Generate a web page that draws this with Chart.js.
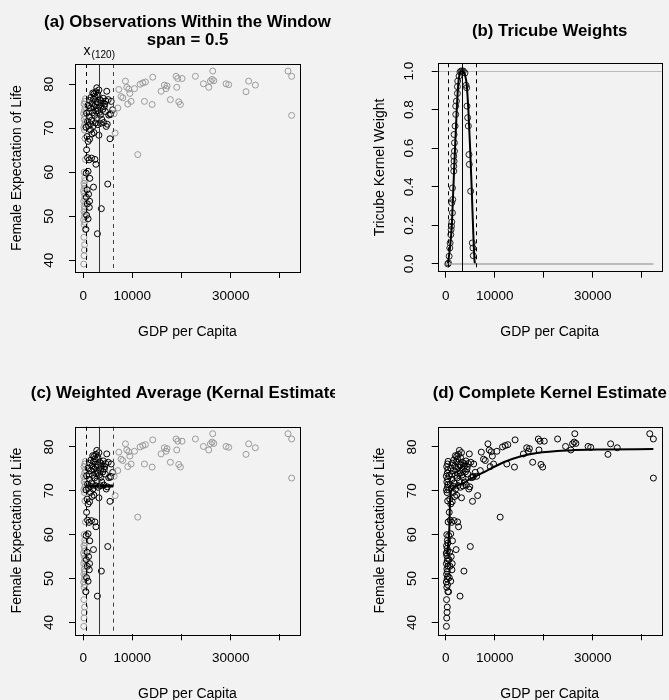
<!DOCTYPE html>
<html>
<head>
<meta charset="utf-8">
<script src="https://cdn.jsdelivr.net/npm/chart.js@4.4.1/dist/chart.umd.min.js"></script>
<style>
html, body { margin: 0; padding: 0; background: #f2f2f2; }
#wrap { position: relative; width: 669px; height: 700px; overflow: hidden; }
canvas { position: absolute; }
</style>
</head>
<body>
<div id="wrap">
  <canvas id="pa" width="335" height="350" style="left:0;top:0"></canvas>
  <canvas id="pb" width="334" height="350" style="left:335px;top:0"></canvas>
  <canvas id="pc" width="335" height="350" style="left:0;top:350px"></canvas>
  <canvas id="pd" width="334" height="350" style="left:335px;top:350px"></canvas>
</div>
<script>
// GDP per capita and female life expectancy
const gdp = [
  // poorest countries (left of the window)
  120, 180, 250, 300, 150, 420, 200, 350, 100, 260, 400, 160, 330, 220, 450, 120, 300, 380, 200, 90,
  350, 260, 150, 420, 310, 200, 470, 380, 250, 140, 330, 450, 210, 380, 100, 290, 420, 180, 350, 460,
  // inside the window
  560, 1000, 700, 1250, 850, 1300, 650, 1100, 800, 2100, 1350, 600, 1000, 2900, 3700, 5000,
  700, 1200, 1700, 2400, 2600, 900, 1000, 1300, 800, 1800, 3200, 5450, 2200, 1500,
  600, 1100, 1500, 2000, 2500, 3000, 3500, 4200, 4700, 1700, 900, 2800, 3800, 1300, 2300, 5200, 4900,
  700, 1200, 1900, 2600, 3300, 4000, 4500, 5600, 1500, 2200, 2900, 3600, 4300, 1000, 1800, 2500, 3000,
  3100, 3900, 4600, 5700, 1300, 2100, 2800, 3400, 4100, 1600, 2400, 3000, 1950, 2600, 4800, 3200,
  2770, 2200, 3700, 5100, 4400, 3500, 5550, 6000,
  // richer countries (right of the window)
  6300, 6500, 7050, 7250, 8060, 8600, 8870, 9280, 9070, 9750, 10430, 11580, 12130, 12660, 12460,
  14150, 14020, 15850, 16520, 16860, 17070, 17740, 18900, 19240, 19030, 19440, 19780, 20110, 22830,
  24460, 25540, 25880, 26220, 26350, 26570, 29060, 29600, 33120, 33660, 35020, 41660, 42400, 42400,
  11100, 9500, 7700
];
const lifeExp = [
  39.1, 41.0, 42.3, 43.5, 45.2, 47.0, 48.0, 48.6, 49.2, 49.9, 50.5, 51.0, 51.6, 52.2, 52.8, 53.4, 54.0, 54.6, 55.2, 55.8,
  56.3, 56.9, 57.5, 58.1, 58.7, 60.0, 62.9, 67.7, 69.6, 70.2, 70.8, 71.4, 72.0, 72.7, 73.3, 74.0, 74.8, 75.5, 76.1, 76.7,
  47.0, 49.4, 50.2, 52.0, 52.8, 53.4, 54.3, 55.0, 56.0, 56.6, 58.6, 59.8, 60.2, 46.0, 51.7, 57.3,
  65.1, 62.8, 63.2, 62.9, 61.8, 63.3, 67.0, 67.5, 68.1, 68.7, 68.4, 67.6, 69.0, 69.6,
  70.2, 70.6, 71.0, 70.4, 71.2, 70.8, 71.1, 71.3, 70.4, 71.8, 71.5, 72.2, 72.0, 72.6, 72.9, 73.0, 70.9,
  73.4, 73.8, 73.5, 73.9, 73.6, 74.3, 73.8, 73.3, 74.6, 74.9, 74.5, 75.0, 74.9, 75.2, 75.6, 75.4, 74.0,
  75.9, 75.7, 76.2, 76.1, 76.3, 76.6, 76.0, 76.5, 76.8, 77.0, 77.3, 77.6, 78.0, 78.3, 78.4, 78.7,
  79.2, 77.8, 76.2, 76.5, 75.5, 73.0, 73.1, 74.2,
  73.3, 68.9, 74.6, 78.8, 76.9, 80.7, 79.3, 78.9, 75.5, 76.1, 79.0, 80.0, 80.3, 80.5, 76.1,
  81.6, 75.4, 78.4, 79.8, 79.0, 79.6, 76.5, 81.8, 81.3, 79.3, 76.0, 75.4, 81.3, 81.8,
  80.1, 79.3, 80.7, 81.1, 83.0, 80.8, 80.1, 79.9, 78.3, 80.7, 79.8, 83.0, 81.8, 72.9,
  64.0, 77.9, 77.2
];

// focal value x(120), window edges and the local weighted average
const focusX = 3280;
const windowLo = 480;
const windowHi = 6100;
const avgX = [480, 6100];
const avgY = [71.1, 71.1];

// tricube weights of the observations inside the window (panel b)
const weightX = [405, 540, 676, 811, 878, 1014, 1081, 1149, 1216, 1351, 1216, 1419, 1351, 1622, 1622, 1689, 1622,
  1757, 1757, 1689, 1892, 2027, 2027, 2162, 2365, 2365, 2432, 2703, 2905, 3108, 3311, 3581, 3919,
  4122, 4257, 4324, 4459, 4595, 4730, 4797, 5068, 5405, 5541, 5608];
const weightY = [0, 0.005, 0.04, 0.083, 0.109, 0.152, 0.178, 0.196, 0.218, 0.265, 0.317, 0.334, 0.394, 0.481, 0.507,
  0.533, 0.559, 0.585, 0.628, 0.671, 0.715, 0.775, 0.818, 0.844, 0.884, 0.919, 0.948, 0.974, 0.995, 1.0, 1.0,
  1.0, 0.99, 0.926, 0.913, 0.818, 0.758, 0.715, 0.567, 0.516, 0.377, 0.109, 0.083, 0.043];
// tricube kernel curve
const kernelX = [420, 880, 1220, 1550, 1900, 2230, 2570, 2970, 3280, 3600, 3920, 4260, 4600, 4930, 5270, 5610, 5900, 6050];
const kernelY = [0, 0.09, 0.2, 0.4, 0.61, 0.8, 0.94, 0.995, 1.0, 0.995, 0.98, 0.93, 0.8, 0.62, 0.4, 0.16, 0.01, 0];
const zeroX = [0, 42400];
const zeroY = [0, 0];

// complete kernel estimate (panel d)
const smoothX = [200, 500, 700, 900, 1300, 2300, 3300, 5000, 8400, 11800, 15200, 18600, 25300, 32100, 42400];
const smoothY = [55.5, 58.0, 61.0, 68.5, 70.4, 71.2, 71.6, 72.7, 74.6, 76.5, 77.8, 78.6, 79.2, 79.4, 79.5];

const xTicks = [0, 10000, 20000, 30000, 40000];
const xTickLabels = ['0', '10000', '', '30000', ''];
const lifeTicks = [40, 50, 60, 70, 80];
const lifeTickLabels = ['40', '50', '60', '70', '80'];
const weightTicks = [0, 0.2, 0.4, 0.6, 0.8, 1.0];
const weightTickLabels = ['0.0', '0.2', '0.4', '0.6', '0.8', '1.0'];

const FONT = '"Liberation Sans", Arial, Helvetica, sans-serif';
Chart.defaults.font.family = FONT;
Chart.defaults.color = '#000';
Chart.defaults.animation = false;

const pts = gdp.map((g, i) => ({x: g, y: lifeExp[i]}));
const xy = (xs, ys) => xs.map((v, i) => ({x: v, y: ys[i]}));
const inWin = v => v >= windowLo && v <= windowHi;

function drawRefs(chart, lines) {
    const {ctx, chartArea: a, scales: {x, y}} = chart;
    ctx.save();
    lines.forEach(l => {
        ctx.beginPath();
        ctx.strokeStyle = l.color;
        ctx.lineWidth = l.width || 1;
        ctx.setLineDash(l.dash || []);
        if (l.v !== undefined) {
            const px = Math.round(x.getPixelForValue(l.v)) + 0.5;
            ctx.moveTo(px, a.top);
            ctx.lineTo(px, a.bottom);
        } else {
            const py = Math.round(y.getPixelForValue(l.h)) + 0.5;
            ctx.moveTo(a.left, py);
            ctx.lineTo(a.right, py);
        }
        ctx.stroke();
    });
    ctx.restore();
}

const rFrame = {
    id: 'rFrame',
    beforeDatasetsDraw(chart, args, o) {
        drawRefs(chart, (o.lines || []).filter(l => l.under));
    },
    afterDatasetsDraw(chart, args, o) {
        drawRefs(chart, (o.lines || []).filter(l => !l.under));
        const {ctx, chartArea: a} = chart;
        ctx.save();
        ctx.strokeStyle = '#000';
        ctx.lineWidth = 1;
        ctx.strokeRect(Math.round(a.left) + 0.5, Math.round(a.top) + 0.5,
            Math.round(a.right - a.left), Math.round(a.bottom - a.top));
        ctx.restore();
    },
    afterDraw(chart, args, o) {
        const {ctx, chartArea: a} = chart;
        const cx = (a.left + a.right) / 2;
        ctx.save();
        ctx.fillStyle = '#000';
        ctx.textAlign = 'center';
        ctx.textBaseline = 'alphabetic';
        ctx.font = 'bold 16.8px ' + FONT;
        o.titles.forEach(t => ctx.fillText(t.text, cx, t.y));
        ctx.font = '14px ' + FONT;
        ctx.fillText(o.xTitle, cx, a.bottom + 64);
        ctx.save();
        ctx.translate(a.left - 54, (a.top + a.bottom) / 2);
        ctx.rotate(-Math.PI / 2);
        ctx.fillText(o.yTitle, 0, 0);
        ctx.restore();
        if (o.focusLabel) {
            const px = chart.scales.x.getPixelForValue(focusX);
            ctx.font = '14px ' + FONT;
            const w1 = ctx.measureText('x').width;
            ctx.font = '10px ' + FONT;
            const w2 = ctx.measureText('(120)').width;
            const left = px - (w1 + w2 + 1) / 2;
            ctx.textAlign = 'left';
            ctx.font = '14px ' + FONT;
            ctx.fillText('x', left, a.top - 9);
            ctx.font = '10px ' + FONT;
            ctx.fillText('(120)', left + w1 + 1, a.top - 6.5);
        }
        ctx.restore();
    }
};

function xScale() {
    return {
        type: 'linear', min: -1660, max: 44100, bounds: 'data',
        afterBuildTicks: s => { s.ticks = xTicks.map(v => ({value: v})); },
        afterFit: s => { s.height = 50; },
        grid: {drawOnChartArea: false, drawTicks: true, tickLength: 6, color: '#000', lineWidth: 1},
        border: {display: false},
        ticks: {font: {size: 13.5}, color: '#000', padding: 10, maxRotation: 0, autoSkip: false,
            callback: (v, i) => xTickLabels[i]}
    };
}

function yScale(min, max, values, labels, pad) {
    return {
        type: 'linear', min: min, max: max, bounds: 'data',
        afterBuildTicks: s => { s.ticks = values.map(v => ({value: v})); },
        afterFit: s => { s.width = 60; },
        grid: {drawOnChartArea: false, drawTicks: true, tickLength: 6, color: '#000', lineWidth: 1},
        border: {display: false},
        ticks: {font: {size: 13.5}, color: '#000', padding: pad, minRotation: 90, maxRotation: 90,
            crossAlign: 'center', autoSkip: false, callback: (v, i) => labels[i]}
    };
}

function scatterSet(colorFn) {
    return {
        data: pts, showLine: false, pointRadius: 3, pointHoverRadius: 3,
        pointBorderWidth: 1, pointBackgroundColor: 'rgba(0,0,0,0)', pointBorderColor: colorFn
    };
}

function lineSet(data, color, width) {
    return {
        data: data, showLine: true, pointRadius: 0, borderColor: color, borderWidth: width,
        cubicInterpolationMode: 'monotone', fill: false
    };
}

function panel(id, datasets, padding, yOpts, deco) {
    return new Chart(document.getElementById(id), {
        type: 'scatter',
        data: {datasets: datasets},
        options: {
            responsive: false,
            devicePixelRatio: 1,
            layout: {padding: padding, autoPadding: false},
            scales: {x: xScale(), y: yOpts},
            plugins: {legend: {display: false}, tooltip: {enabled: false}, title: {display: false}, rFrame: deco}
        },
        plugins: [rFrame]
    });
}

const winColor = ctx => inWin(ctx.raw.x) ? '#000' : '#999999';
const windowLines = [
    {v: windowLo, color: '#000', dash: [4, 4]},
    {v: focusX, color: '#333'},
    {v: windowHi, color: '#444', dash: [4, 4]}
];

// (a)
panel('pa', [scatterSet(winColor)],
    {left: 15, right: 35, top: 64, bottom: 28},
    yScale(37.3, 84.6, lifeTicks, lifeTickLabels, 12),
    {titles: [{text: '(a) Observations Within the Window', y: 26.7}, {text: 'span = 0.5', y: 45.3}],
     xTitle: 'GDP per Capita', yTitle: 'Female Expectation of Life', lines: windowLines, focusLabel: true});

// (b)
panel('pb', [
        lineSet(xy(zeroX, zeroY), '#aaaaaa', 1.5),
        lineSet(xy(kernelX, kernelY), '#000', 2),
        {data: xy(weightX, weightY), showLine: false, pointRadius: 3, pointBorderWidth: 1,
         pointBackgroundColor: 'rgba(0,0,0,0)', pointBorderColor: '#222'}
    ],
    {left: 42.7, right: 7.3, top: 63.3, bottom: 28.3},
    yScale(-0.04, 1.04, weightTicks, weightTickLabels, 13),
    {titles: [{text: '(b) Tricube Weights', y: 35.7}],
     xTitle: 'GDP per Capita', yTitle: 'Tricube Kernel Weight',
     lines: [{h: 1, color: '#bbbbbb', under: true},
             {v: windowLo, color: '#000', dash: [4, 4]},
             {v: focusX, color: '#000'},
             {v: windowHi, color: '#000', dash: [4, 4]}]});

// (c)
panel('pc', [scatterSet(winColor), lineSet(xy(avgX, avgY), '#000', 3)],
    {left: 15, right: 35, top: 76.7, bottom: 15.7},
    yScale(37.3, 84.6, lifeTicks, lifeTickLabels, 12),
    {titles: [{text: '(c) Weighted Average (Kernal Estimate)', y: 47.7}],
     xTitle: 'GDP per Capita', yTitle: 'Female Expectation of Life', lines: windowLines});

// (d)
panel('pd', [scatterSet('#000'), lineSet(xy(smoothX, smoothY), '#000', 2)],
    {left: 42.7, right: 7.3, top: 76.7, bottom: 15.7},
    yScale(37.3, 84.6, lifeTicks, lifeTickLabels, 12),
    {titles: [{text: '(d) Complete Kernel Estimate', y: 47.7}],
     xTitle: 'GDP per Capita', yTitle: 'Female Expectation of Life', lines: []});
</script>
</body>
</html>
